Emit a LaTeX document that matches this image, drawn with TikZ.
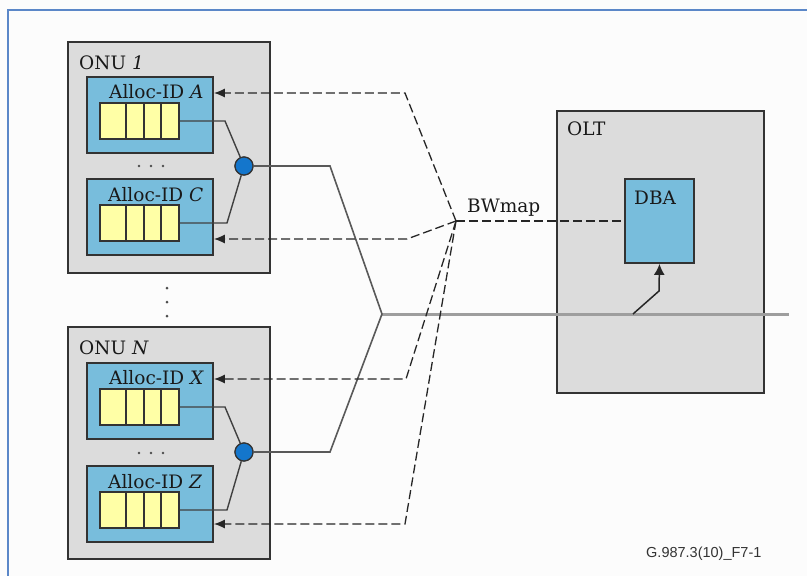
\documentclass[tikz,border=0pt]{standalone}
\usepackage{fontspec}
\setmainfont{DejaVu Serif}
\newfontfamily\tagfont{Liberation Sans}
\usetikzlibrary{arrows.meta}

\definecolor{boxgray}{HTML}{DCDCDC}
\definecolor{allocblue}{HTML}{78BDDC}
\definecolor{queueyellow}{HTML}{FFFFA6}
\definecolor{mixblue}{HTML}{1476CC}
\definecolor{frameblue}{HTML}{5B87C8}
\definecolor{edgegray}{HTML}{333333}

\begin{document}
\begin{tikzpicture}[x=1pt,y=-1pt,
  unit/.style={draw=edgegray, line width=2pt, fill=boxgray, inner sep=0pt},
  alloc/.style={draw=edgegray, line width=1.8pt, fill=allocblue, inner sep=0pt,
                minimum width=126pt, minimum height=76pt},
  queue/.style={draw=edgegray, line width=1.6pt, fill=queueyellow, inner sep=0pt,
                minimum width=79pt, minimum height=36pt},
  lbl/.style={font=\fontsize{18.5}{20}\selectfont, text=black!90, inner sep=0pt, anchor=base west},
  feed/.style={draw=black!75, line width=1.4pt},
  grant/.style={draw=black!85, line width=1.3pt, dash pattern=on 9pt off 4pt},
  grantarrow/.style={grant, -{Latex[length=11pt,width=9pt]}},
  fibre/.style={draw=black!65, line width=1.6pt},
  trunk/.style={draw=black!38, line width=3pt},
  mixer/.style={circle, draw=edgegray, line width=1.2pt, fill=mixblue,
                minimum size=18pt, inner sep=0pt},
  dot/.style={fill=black!70}
]
\useasboundingbox (0,0) rectangle (807,576);
\fill[white!99!black] (0,0) rectangle (807,576);

% outer frame (only top and left edges fall on the page)
\draw[frameblue, line width=2.2pt] (8,590) -- (8,10) -- (820,10);

% ---------------- ONU 1 ----------------
\node (onu1) [unit, minimum width=202pt, minimum height=231pt] at (169,157.5) {};
\node (onu1lbl) [lbl] at (79,69) {ONU \textit{1}};

\node (allocA) [alloc] at (150,115) {};
\node (allocAlbl) [lbl] at (109,98) {Alloc-ID \textit{A}};
\node (qA) [queue] at (139.5,121) {};

\node (allocC) [alloc] at (150,217) {};
\node (allocClbl) [lbl] at (108,201) {Alloc-ID \textit{C}};
\node (qC) [queue] at (139.5,223) {};

\node (mix1) [mixer] at (244,166) {};

% ---------------- ONU N ----------------
\node (onuN) [unit, minimum width=202pt, minimum height=232pt] at (169,443) {};
\node (onuNlbl) [lbl] at (79,354) {ONU \textit{N}};

\node (allocX) [alloc] at (150,401) {};
\node (allocXlbl) [lbl] at (109,384) {Alloc-ID \textit{X}};
\node (qX) [queue] at (139.5,407) {};

\node (allocZ) [alloc] at (150,504) {};
\node (allocZlbl) [lbl] at (108,488) {Alloc-ID \textit{Z}};
\node (qZ) [queue] at (139.5,510) {};

\node (mixN) [mixer] at (244,452) {};

% queue cell dividers
\foreach \q in {qA,qC,qX,qZ}{
  \foreach \dx in {27,45,62}{
    \draw[edgegray, line width=1.6pt] ([xshift=\dx pt]\q.north west) -- ([xshift=\dx pt]\q.south west);
  }
}

% ellipsis dots
\foreach \yy in {166,453}{
  \foreach \xx in {139,151,163}{
    \fill[dot] (\xx,\yy) circle (1.3pt);
  }
}
\foreach \yy in {288,302,316}{
  \fill[dot] (167,\yy) circle (1.5pt);
}

% queues to the multiplexers
\draw[feed] (qA.east) -- (225,121) -- (mix1);
\draw[feed] (qC.east) -- (227,223) -- (mix1);
\draw[feed] (qX.east) -- (225,407) -- (mixN);
\draw[feed] (qZ.east) -- (227,510) -- (mixN);
\node (mix1top) [mixer] at (mix1) {};
\node (mixNtop) [mixer] at (mixN) {};

% ---------------- OLT ----------------
\node (olt) [unit, minimum width=207pt, minimum height=282pt] at (660.5,252) {};
\node (oltlbl) [lbl] at (567,135) {OLT};
\node (dba) [unit, fill=allocblue, line width=1.8pt, minimum width=69pt, minimum height=84pt] at (659.5,221) {};
\node (dbalbl) [lbl] at (634,204) {DBA};

% ---------------- fibre tree ----------------
\coordinate (split) at (382,314);
\coordinate (trunkend) at (789,314);
\coordinate (tap) at (633,314);
\draw[trunk] (split) -- (trunkend);
\draw[fibre] (mix1top.east) -- (330,166) -- (split);
\draw[fibre] (mixNtop.east) -- (330,452) -- (split);
\draw[black!85, line width=1.5pt, -{Latex[length=11pt,width=11pt]}] (tap) -- (659,291) -- (dba.south);

% ---------------- BWmap grants ----------------
\coordinate (bw) at (456,221);
\node (bwlbl) [lbl] at (467,212) {BWmap};
\draw[grant] (bw) -- (dba.west |- bw);
\draw[grantarrow] (bw) -- (405,93) -- (allocA.east |- 0,93);
\draw[grantarrow] (bw) -- (407,239) -- (allocC.east |- 0,239);
\draw[grantarrow] (bw) -- (406,379) -- (allocX.east |- 0,379);
\draw[grantarrow] (bw) -- (405,524) -- (allocZ.east |- 0,524);

% figure tag
\node (tag) [font=\tagfont\fontsize{14.5}{16}\selectfont, text=black!80, inner sep=0pt, anchor=base west] at (646,557) {G.987.3(10)\_F7-1};
\end{tikzpicture}
\end{document}
